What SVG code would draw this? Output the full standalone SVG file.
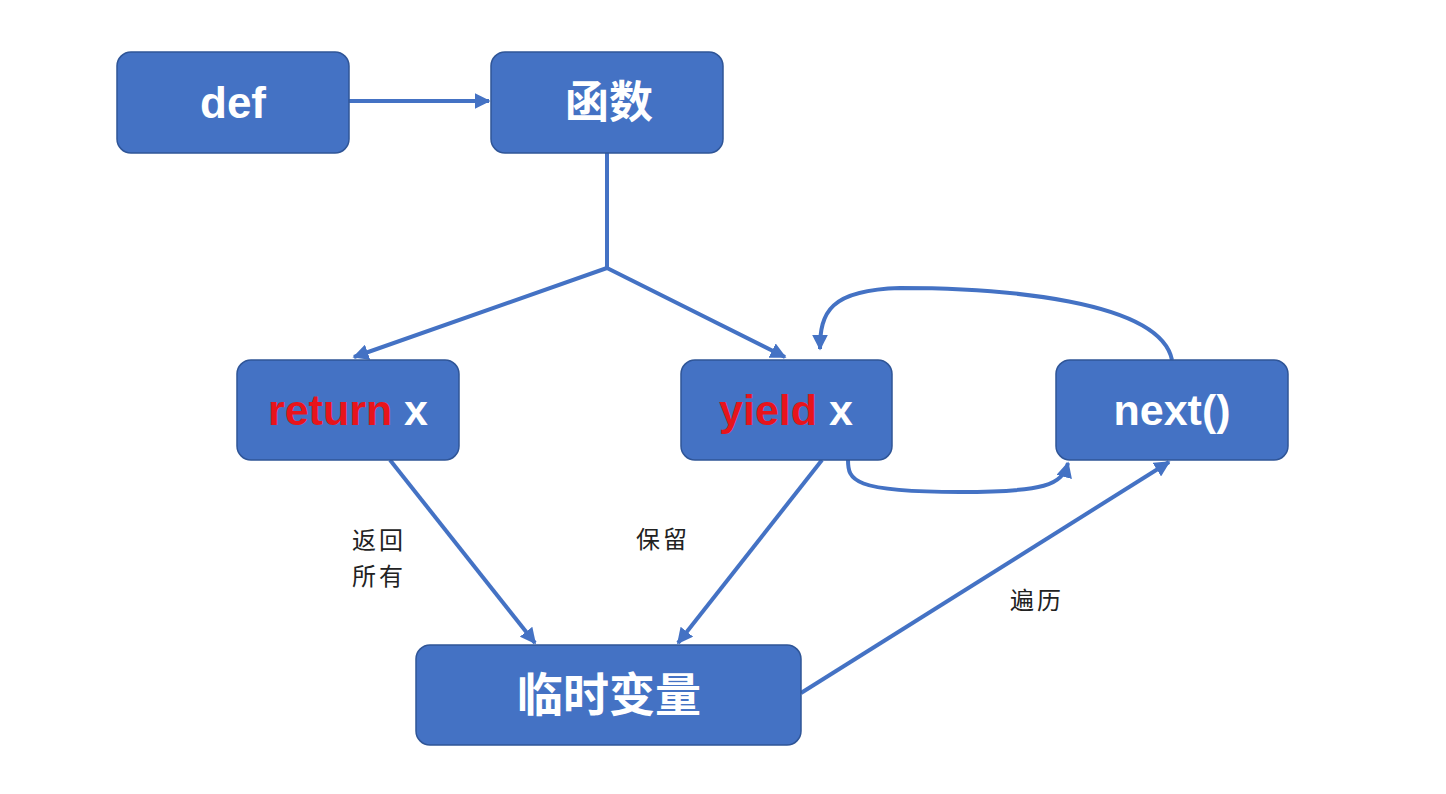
<svg xmlns="http://www.w3.org/2000/svg" width="1446" height="794" viewBox="0 0 1446 794">
<style>
.box{fill:#4472C4;stroke:#2F5597;stroke-width:1.5}
.t{font-family:"Liberation Sans","Noto Sans CJK SC",sans-serif;font-weight:bold;fill:#fff;text-anchor:middle;dominant-baseline:central}
.red{fill:#E8141B}
.c{fill:none;stroke:#4472C4;stroke-width:4}
.lb{font-family:"Noto Sans CJK SC",sans-serif;font-size:24px;letter-spacing:3px;fill:#222}
</style>
<defs>
<marker id="a" viewBox="0 0 10 10" refX="9" refY="5" markerWidth="4" markerHeight="4" orient="auto" markerUnits="strokeWidth">
<path d="M0,0 L10,5 L0,10 z" fill="#4472C4"/>
</marker>
</defs>
<rect width="1446" height="794" fill="#fff"/>
<g id="connectors">
<line class="c" x1="349" y1="101" x2="489" y2="101" marker-end="url(#a)"/>
<polyline class="c" points="607,153 607,268 354,357" marker-end="url(#a)"/>
<polyline class="c" points="607,268 785,357" marker-end="url(#a)"/>
<line class="c" x1="390" y1="460" x2="535" y2="643" marker-end="url(#a)"/>
<line class="c" x1="822" y1="460" x2="678" y2="643" marker-end="url(#a)"/>
<path class="c" d="M848,460 C848,480 852,492 960,492 C1045,492 1062,485 1068,463" marker-end="url(#a)"/>
<path class="c" d="M1172,360 C1160,300 1000,288 900,288 C830,290 820,312 820,349" marker-end="url(#a)"/>
<line class="c" x1="801" y1="693" x2="1169" y2="462" marker-end="url(#a)"/>
</g>
<g id="n-def"><rect class="box" x="117" y="52" width="232" height="101" rx="14"/><text class="t" x="233" y="102" font-size="44">def</text></g>
<g id="n-func"><rect class="box" x="491" y="52" width="232" height="101" rx="14"/><text class="t" x="609" y="102" font-size="44">函数</text></g>
<g id="n-return"><rect class="box" x="237" y="360" width="222" height="100" rx="14"/><text class="t" x="348" y="410" font-size="43"><tspan class="red">return</tspan> x</text></g>
<g id="n-yield"><rect class="box" x="681" y="360" width="211" height="100" rx="14"/><text class="t" x="786" y="410" font-size="43"><tspan class="red">yield</tspan> x</text></g>
<g id="n-next"><rect class="box" x="1056" y="360" width="232" height="100" rx="14"/><text class="t" x="1172" y="410" font-size="43">next()</text></g>
<g id="n-temp"><rect class="box" x="416" y="645" width="385" height="100" rx="14"/><text class="t" x="609" y="695" font-size="46">临时变量</text></g>
<g id="labels">
<text class="lb" x="352" y="549">返回</text>
<text class="lb" x="352" y="585">所有</text>
<text class="lb" x="636" y="548">保留</text>
<text class="lb" x="1010" y="609">遍历</text>
</g>
</svg>
